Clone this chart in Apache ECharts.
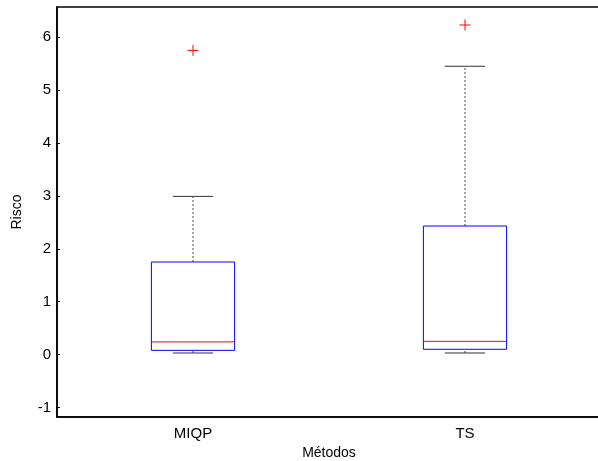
<!DOCTYPE html>
<html>
<head>
<meta charset="utf-8">
<script src="https://cdn.jsdelivr.net/npm/echarts@6/dist/echarts.min.js"></script>
<style>
  html, body { margin: 0; padding: 0; background: #fff; }
  #chart { width: 598px; height: 461px; }
</style>
</head>
<body>
<div id="chart"></div>
<script>
// categorias e estatisticas
var categories = ['MIQP', 'TS'];
var whiskerLow = [0.03, 0.03];
var q1 = [0.08, 0.10];
var median = [0.24, 0.25];
var q3 = [1.75, 2.43];
var whiskerHigh = [2.99, 5.45];
var outliers = [[0, 5.75], [1, 6.23]];

var font = 'Arial, "Liberation Sans", sans-serif';

var boxData = categories.map(function (c, i) {
  return [i, whiskerLow[i], q1[i], median[i], q3[i], whiskerHigh[i]];
});

function renderBox(params, api) {
  var i = api.value(0);
  var band = api.size([1, 0])[0];
  var half = band * 0.153;
  var capHalf = band * 0.074;
  var pLow = api.coord([i, api.value(1)]);
  var pQ1 = api.coord([i, api.value(2)]);
  var pMed = api.coord([i, api.value(3)]);
  var pQ3 = api.coord([i, api.value(4)]);
  var pHigh = api.coord([i, api.value(5)]);
  var x = pQ1[0];
  var dashStyle = { stroke: '#444', lineWidth: 1, lineDash: [2, 2] };
  var solid = { stroke: '#333', lineWidth: 1 };
  return {
    type: 'group',
    children: [
      { type: 'line', shape: { x1: x, y1: pQ3[1], x2: x, y2: pHigh[1] }, style: dashStyle },
      { type: 'line', shape: { x1: x, y1: pLow[1], x2: x, y2: pQ1[1] }, style: dashStyle },
      { type: 'line', shape: { x1: x - capHalf, y1: pHigh[1], x2: x + capHalf, y2: pHigh[1] }, style: solid },
      { type: 'line', shape: { x1: x - capHalf, y1: pLow[1], x2: x + capHalf, y2: pLow[1] }, style: solid },
      { type: 'rect', shape: { x: x - half, y: pQ3[1], width: half * 2, height: pQ1[1] - pQ3[1] },
        style: { fill: 'none', stroke: '#0000ff', lineWidth: 1 } },
      { type: 'line', shape: { x1: x - half, y1: pMed[1], x2: x + half, y2: pMed[1] },
        style: { stroke: '#ff0000', lineWidth: 1 } }
    ]
  };
}

function renderOutlier(params, api) {
  var p = api.coord([api.value(0), api.value(1)]);
  var s = 5.5;
  var st = { stroke: '#ff0000', lineWidth: 1 };
  return {
    type: 'group',
    children: [
      { type: 'line', shape: { x1: p[0] - s, y1: p[1], x2: p[0] + s, y2: p[1] }, style: st },
      { type: 'line', shape: { x1: p[0], y1: p[1] - s, x2: p[0], y2: p[1] + s }, style: st }
    ]
  };
}

var chart = echarts.init(document.getElementById('chart'));
var option = {
  animation: false,
  backgroundColor: '#fff',
  grid: {
    left: 57, top: 7, right: -3, bottom: 44,
    outerBoundsMode: 'none', containLabel: false,
    show: true, borderColor: '#000', borderWidth: 1.5
  },
  xAxis: {
    type: 'category',
    data: categories,
    boundaryGap: true,
    name: 'Métodos',
    nameLocation: 'middle',
    nameGap: 27,
    nameTextStyle: { color: '#000', fontSize: 14, fontFamily: font },
    axisLine: { onZero: false, lineStyle: { color: '#000', width: 1.5 } },
    axisTick: { show: false },
    axisLabel: { color: '#000', fontSize: 15, fontFamily: font, margin: 9 },
    splitLine: { show: false }
  },
  yAxis: [{
    type: 'value',
    min: -1.18,
    max: 6.57,
    splitNumber: 8,
    name: 'Risco',
    nameLocation: 'middle',
    nameGap: 33,
    nameTextStyle: { color: '#000', fontSize: 14, fontFamily: font },
    axisLine: { show: true, onZero: false, lineStyle: { color: '#000', width: 1.5 } },
    axisTick: { show: true, inside: true, length: 3, lineStyle: { color: '#000' } },
    axisLabel: {
      color: '#000', fontSize: 15, fontFamily: font, margin: 6,
      showMinLabel: false, showMaxLabel: false,
      formatter: function (v) { return Math.abs(v - Math.round(v)) < 1e-6 ? String(Math.round(v)) : ''; }
    },
    splitLine: { show: false }
  }, {
    type: 'value',
    position: 'right',
    min: -1.18,
    max: 6.57,
    splitNumber: 8,
    axisLine: { show: true, onZero: false, lineStyle: { color: '#000', width: 1.5 } },
    axisTick: { show: true, inside: true, length: 3, lineStyle: { color: '#000' } },
    axisLabel: { show: false },
    splitLine: { show: false }
  }],
  series: [{
    type: 'custom',
    renderItem: renderBox,
    encode: { x: 0, y: [1, 2, 3, 4, 5] },
    data: boxData
  }, {
    type: 'custom',
    renderItem: renderOutlier,
    encode: { x: 0, y: 1 },
    data: outliers
  }]
};
chart.setOption(option);
</script>
</body>
</html>
